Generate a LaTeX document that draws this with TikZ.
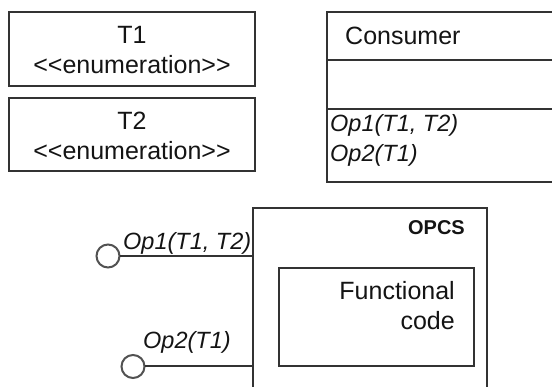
\documentclass[tikz,border=0pt]{standalone}
\usepackage{fontspec}
\setmainfont{Liberation Sans}
\newcommand{\stereo}[1]{<\kern0pt<#1>\kern0pt>}
\begin{document}
\begin{tikzpicture}[x=1pt,y=-1pt,
  frame/.style={draw=black!80, line width=2pt, inner sep=0pt, outer sep=0pt, anchor=north west},
  txt/.style={inner sep=0pt, text=black!92, font=\fontsize{25}{30}\selectfont},
  optxt/.style={inner sep=0pt, text=black!92, font=\fontsize{23.5}{28}\selectfont\itshape},
  boldtxt/.style={inner sep=0pt, text=black!92, font=\fontsize{20}{24}\selectfont\bfseries},
  lobe/.style={circle, draw=black!68, line width=2pt, minimum size=23pt, inner sep=0pt, outer sep=0pt},
  wire/.style={draw=black!80, line width=2pt}]
\useasboundingbox (0,0) rectangle (552,387);
\clip (0,0) rectangle (552,387);

% enumeration types
\node[frame, minimum width=246pt, minimum height=74pt] (t1) at (9,12) {};
\node[txt, anchor=base] (t1name) at (132,43.5) {T1};
\node[txt, anchor=base] (t1st) at (132,74) {\stereo{enumeration}};

\node[frame, minimum width=246pt, minimum height=73pt] (t2) at (9,98) {};
\node[txt, anchor=base] (t2name) at (132,130) {T2};
\node[txt, anchor=base] (t2st) at (132,159.5) {\stereo{enumeration}};

% consumer class
\node[frame, minimum width=240pt, minimum height=170pt] (cons) at (327,12) {};
\draw[wire] ([yshift=-48pt]cons.north west) -- ([yshift=-48pt]cons.north east);
\draw[wire] ([yshift=-97pt]cons.north west) -- ([yshift=-97pt]cons.north east);
\node[txt, anchor=base west] (consname) at (345,44.5) {Consumer};
\node[optxt, anchor=base west] (consop1) at (330,131.5) {Op1(T1, T2)};
\node[optxt, anchor=base west] (consop2) at (330,161.5) {Op2(T1)};

% provider component
\node[frame, minimum width=234pt, minimum height=200pt] (opcs) at (253,208) {};
\node[boldtxt, anchor=base east] (opcsname) at (465,235) {OPCS};
\node[frame, minimum width=195pt, minimum height=98pt] (func) at (279,268) {};
\node[txt, anchor=base east] (funcl1) at (455,300) {Functional};
\node[txt, anchor=base east] (funcl2) at (455,330) {code};

% provided interfaces
\node[lobe] (l1) at (108,256) {};
\draw[wire] (l1.east) -- (l1 -| opcs.west);
\node[optxt, anchor=base west] (l1lab) at (123,250) {Op1(T1, T2)};

\node[lobe] (l2) at (133,366.5) {};
\draw[wire] (l2.east) -- (l2 -| opcs.west);
\node[optxt, anchor=base west] (l2lab) at (143,349) {Op2(T1)};
\end{tikzpicture}
\end{document}
